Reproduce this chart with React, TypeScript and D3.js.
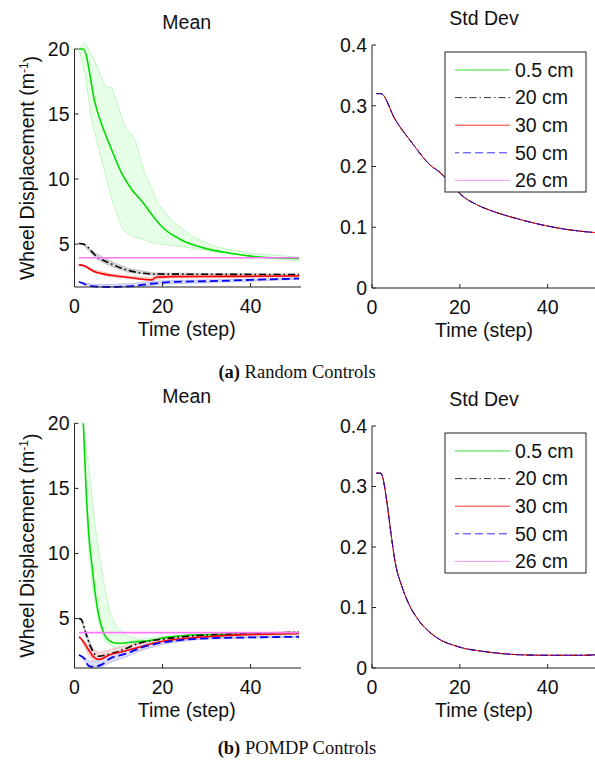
import React from 'react';
import * as d3 from 'd3';

const SANS = '"Liberation Sans", Arial, Helvetica, sans-serif';
const SERIF = '"Liberation Serif", "Times New Roman", serif';

// ---------- Legend / series ----------
const seriesNames = ['0.5 cm', '20 cm', '30 cm', '50 cm', '26 cm'];
const seriesColors = ['#00dd00', '#000000', '#ff0000', '#0000ff', '#ff77ff'];
const seriesDash = ['', '7,3,1.5,3', '', '8,4', ''];

const xTicks = [0, 20, 40];
const meanTicks = [5, 10, 15, 20];
const stdTicks = [0, 0.1, 0.2, 0.3, 0.4];

// ---------- (a) Random controls : mean ----------
const aGreenT = [1, 2, 4.7, 8.5, 10.8, 13, 15.3, 18.3, 19.8, 24.4, 29.7, 35.8, 43.3, 51];
const aGreenV = [20, 20, 15.8, 12.2, 10.4, 9.2, 8.3, 6.95, 6.35, 5.3, 4.67, 4.28, 3.97, 3.9];
const aGreenUpT = [1, 2.4, 4.7, 7, 8.5, 11.5, 13.8, 16, 19, 22, 26.7, 32, 39.5, 51];
const aGreenUp = [20, 20.5, 19, 17.1, 17, 14, 13, 10.4, 8.1, 6.85, 5.6, 4.8, 4.3, 4.0];
const aGreenLoT = [1, 2.4, 3.9, 7, 8.5, 11, 13, 15.3, 18.3, 24.4, 32, 39.5, 51];
const aGreenLo = [20, 18.1, 14.5, 10.4, 8.4, 6.1, 5.6, 5.4, 5.05, 4.8, 4.4, 4.07, 3.7];

const aBlackT = [1, 2, 5.2, 8.2, 12, 18, 30, 51];
const aBlackV = [5.05, 5.0, 4.0, 3.5, 3.0, 2.7, 2.68, 2.65];
const aBlackUp = [5.05, 5.05, 4.2, 3.7, 3.15, 2.78, 2.74, 2.7];
const aBlackLo = [5.05, 4.95, 3.8, 3.3, 2.85, 2.6, 2.6, 2.58];

const aRedT = [1, 2, 4.5, 8.2, 12, 17.6, 18.5, 22, 35, 51];
const aRedV = [3.4, 3.35, 2.9, 2.6, 2.45, 2.25, 2.45, 2.5, 2.52, 2.55];
const aRedUp = [3.45, 3.4, 3.0, 2.7, 2.55, 2.4, 2.55, 2.6, 2.6, 2.62];
const aRedLo = [3.35, 3.3, 2.8, 2.5, 2.38, 2.15, 2.3, 2.4, 2.42, 2.48];

const aBlueT = [1, 4.3, 9, 12, 14, 17.3, 19, 21.8, 31, 40, 51];
const aBlueV = [2.1, 1.75, 1.7, 1.75, 1.8, 1.95, 2.0, 2.08, 2.15, 2.25, 2.35];
const aBlueUp = [2.1, 1.9, 1.9, 1.95, 2.0, 2.1, 2.15, 2.2, 2.25, 2.3, 2.4];
const aBlueLo = [2.1, 1.7, 1.7, 1.7, 1.7, 1.8, 1.88, 1.95, 2.05, 2.15, 2.3];

const aMagT = [1, 51];
const aMagV = [3.95, 3.95];

// ---------- (a) Random controls : std dev ----------
const aStdT = [1, 2, 5.3, 9.1, 13.6, 15.2, 17.4, 20.5, 24.2, 28, 32.6, 38.6, 44.7, 51];
const aStdV = [0.32, 0.32, 0.277, 0.239, 0.2, 0.192, 0.176, 0.152, 0.136, 0.125, 0.115, 0.104, 0.096, 0.091];

// ---------- (b) POMDP controls : mean ----------
const bGreenT = [2, 2.6, 3.3, 4.1, 4.8, 5.6, 6.4, 7.9, 9.4, 10.9, 13.2, 17, 20.8, 28.3, 40, 51];
const bGreenV = [20, 15.1, 11.3, 8.7, 6.7, 5.1, 4.1, 3.3, 3.1, 3.1, 3.2, 3.3, 3.55, 3.75, 3.8, 3.85];
const bGreenUpT = [2, 3.3, 4.8, 6.4, 7.9, 9.4, 11.7, 14.7, 20, 30, 51];
const bGreenUp = [20, 16.4, 11.8, 8.2, 5.6, 4.4, 3.7, 3.4, 3.6, 3.8, 3.9];
const bGreenLoT = [2, 2.3, 3, 4.1, 5.6, 7, 9.4, 11.7, 14.7, 20, 30, 51];
const bGreenLo = [20, 17.7, 11.3, 7.4, 4.6, 3.2, 2.7, 2.8, 3.0, 3.45, 3.7, 3.8];

const bBlackT = [1, 1.5, 2.6, 3.7, 4.8, 5.6, 7, 9.4, 11.7, 14.7, 20.8, 28.3, 40, 51];
const bBlackV = [5.0, 4.95, 3.85, 2.8, 2.2, 2.1, 2.2, 2.4, 2.7, 3.1, 3.45, 3.7, 3.85, 3.95];
const bBlackUp = [5.0, 5.0, 4.05, 3.0, 2.4, 2.3, 2.4, 2.6, 2.85, 3.2, 3.5, 3.74, 3.88, 3.98];
const bBlackLo = [5.0, 4.9, 3.65, 2.6, 2.0, 1.9, 2.0, 2.2, 2.55, 3.0, 3.4, 3.66, 3.82, 3.92];

const bRedT = [1, 1.5, 3, 4.5, 5.6, 7.9, 10.9, 14.7, 19.2, 24.5, 32, 51];
const bRedV = [3.6, 3.45, 2.7, 2.0, 1.85, 2.2, 2.45, 2.8, 3.2, 3.45, 3.65, 3.85];
const bRedUp = [3.6, 3.5, 3.0, 2.5, 2.4, 2.6, 2.85, 3.05, 3.35, 3.55, 3.72, 3.9];
const bRedLo = [3.6, 3.4, 2.3, 1.6, 1.45, 1.8, 2.1, 2.5, 3.0, 3.3, 3.55, 3.8];

const bBlueT = [1, 2.6, 3, 3.7, 4.8, 6.4, 7.9, 11.7, 15.5, 20.8, 28.3, 40, 51];
const bBlueV = [2.2, 1.8, 1.45, 1.3, 1.33, 1.5, 1.9, 2.3, 2.8, 3.2, 3.45, 3.55, 3.6];
const bBlueUp = [2.2, 1.95, 1.8, 1.7, 1.75, 1.9, 2.2, 2.55, 2.95, 3.3, 3.5, 3.6, 3.65];
const bBlueLo = [2.2, 1.6, 1.3, 1.2, 1.2, 1.3, 1.6, 2.05, 2.6, 3.1, 3.4, 3.5, 3.55];

const bMagT = [1, 51];
const bMagV = [3.92, 3.92];

// ---------- (b) POMDP controls : std dev ----------
const bStdT = [1, 2, 3.4, 4.2, 5.3, 6.8, 8.3, 10.6, 14.4, 19.7, 25.8, 33.3, 40.2, 48.5, 51];
const bStdV = [0.322, 0.322, 0.274, 0.229, 0.174, 0.135, 0.107, 0.079, 0.052, 0.035, 0.027, 0.022, 0.021, 0.021, 0.022];

type Pt = [number, number];
const zip = (t: number[], v: number[]): Pt[] => t.map((x, i) => [x, v[i]]);

interface Band { upT: number[]; up: number[]; loT: number[]; lo: number[]; fill: string; stroke: string; }
interface Series { t: number[]; v: number[]; idx: number; width: number; opacity?: number; band?: Band; }

interface PanelProps {
  left: number; right: number; top: number; bottom: number;
  yDomain: [number, number]; yTicks: number[]; yFmt: (d: number) => string;
  title: string; series: Series[]; yLabel?: boolean; legend?: boolean;
}

const Panel = ({ left, right, top, bottom, yDomain, yTicks, yFmt, title, series, yLabel, legend }: PanelProps) => {
  const x = d3.scaleLinear().domain([0, 51]).range([left, right]);
  const y = d3.scaleLinear().domain(yDomain).range([bottom, top]);
  const line = d3.line<Pt>().x(d => x(d[0])).y(d => y(d[1])).curve(d3.curveMonotoneX);
  const poly = d3.line<Pt>().x(d => x(d[0])).y(d => y(d[1]));
  const cx = (left + right) / 2;
  const lx = left + 73;
  const ly = top + 7;
  return (
    <g>
      <text x={cx} y={top - 20} textAnchor="middle" fontFamily={SANS} fontSize={19.5} fill="#111">{title}</text>
      {series.filter(s => s.band).map((s, i) => {
        const b = s.band!;
        const pts: Pt[] = [...zip(b.upT, b.up), ...zip(b.loT, b.lo).reverse()];
        return <path key={'b' + i} d={poly(pts)! + 'Z'} fill={b.fill} stroke={b.stroke} strokeWidth={0.8} />;
      })}
      {series.map((s, i) => (
        <path key={'l' + i} d={line(zip(s.t, s.v))!} fill="none" stroke={seriesColors[s.idx]}
          strokeWidth={s.width} strokeDasharray={seriesDash[s.idx] || undefined}
          opacity={s.opacity ?? 1} />
      ))}
      {/* axes */}
      <line x1={left} x2={left} y1={top} y2={bottom} stroke="#222" strokeWidth={1} />
      <line x1={left} x2={right + 2} y1={bottom} y2={bottom} stroke="#222" strokeWidth={1} />
      {yTicks.map(t => (
        <g key={'yt' + t}>
          <line x1={left} x2={left + 4} y1={y(t)} y2={y(t)} stroke="#222" />
          <text x={left - 5} y={y(t)} dy="0.35em" textAnchor="end" fontFamily={SANS} fontSize={19.5} fill="#111">{yFmt(t)}</text>
        </g>
      ))}
      {xTicks.map(t => (
        <g key={'xt' + t}>
          <line x1={x(t)} x2={x(t)} y1={bottom} y2={bottom - 4} stroke="#222" />
          <text x={x(t)} y={bottom + 19} dy="0.35em" textAnchor="middle" fontFamily={SANS} fontSize={19.5} fill="#111">{t}</text>
        </g>
      ))}
      <text x={cx} y={bottom + 42} dy="0.35em" textAnchor="middle" fontFamily={SANS} fontSize={19.5} fill="#111">Time (step)</text>
      {yLabel && (
        <text transform={`translate(${left - 47},${(top + bottom) / 2}) rotate(-90)`} textAnchor="middle" dy="0.35em"
          fontFamily={SANS} fontSize={19.5} fill="#111">
          Wheel Displacement (m<tspan dy="-0.55em" fontSize={12}>-1</tspan><tspan dy="0.55em">)</tspan>
        </text>
      )}
      {legend && (
        <g>
          <rect x={lx} y={ly} width={141} height={140} fill="#fff" stroke="#222" strokeWidth={1} />
          {seriesNames.map((n, i) => {
            const yy = ly + 18 + i * 27.6;
            return (
              <g key={'lg' + i}>
                <line x1={lx + 10} x2={lx + 65} y1={yy} y2={yy} stroke={seriesColors[i]} strokeWidth={1}
                  strokeDasharray={seriesDash[i] || undefined} opacity={0.8}
                  strokeDashoffset={i === 3 ? 4 : 0} />
                <text x={lx + 70} y={yy} dy="0.35em" fontFamily={SANS} fontSize={19.5} fill="#111">{n}</text>
              </g>
            );
          })}
        </g>
      )}
    </g>
  );
};

const meanSeries = (
  g: [number[], number[]], gb: Band,
  k: [number[], number[]], kb: Band,
  r: [number[], number[]], rb: Band,
  bl: [number[], number[]], blb: Band,
  m: [number[], number[]]
): Series[] => [
  { t: g[0], v: g[1], idx: 0, width: 1.6, band: gb },
  { t: k[0], v: k[1], idx: 1, width: 1.6, band: kb },
  { t: r[0], v: r[1], idx: 2, width: 1.6, band: rb },
  { t: bl[0], v: bl[1], idx: 3, width: 1.8, band: blb },
  { t: m[0], v: m[1], idx: 4, width: 1.6 },
];

const greenFill = '#e6ffe6', greenEdge = '#b8f2b8';
const grayFill = '#d4d4d4', grayEdge = '#bbbbbb';
const pinkFill = '#f9dada', pinkEdge = '#f0b8b8';
const lavFill = '#dcdcfa', lavEdge = '#b8b8f0';

const aMean = meanSeries(
  [aGreenT, aGreenV], { upT: aGreenUpT, up: aGreenUp, loT: aGreenLoT, lo: aGreenLo, fill: greenFill, stroke: greenEdge },
  [aBlackT, aBlackV], { upT: aBlackT, up: aBlackUp, loT: aBlackT, lo: aBlackLo, fill: grayFill, stroke: grayEdge },
  [aRedT, aRedV], { upT: aRedT, up: aRedUp, loT: aRedT, lo: aRedLo, fill: pinkFill, stroke: pinkEdge },
  [aBlueT, aBlueV], { upT: aBlueT, up: aBlueUp, loT: aBlueT, lo: aBlueLo, fill: lavFill, stroke: lavEdge },
  [aMagT, aMagV]
);
const bMean = meanSeries(
  [bGreenT, bGreenV], { upT: bGreenUpT, up: bGreenUp, loT: bGreenLoT, lo: bGreenLo, fill: greenFill, stroke: greenEdge },
  [bBlackT, bBlackV], { upT: bBlackT, up: bBlackUp, loT: bBlackT, lo: bBlackLo, fill: grayFill, stroke: grayEdge },
  [bRedT, bRedV], { upT: bRedT, up: bRedUp, loT: bRedT, lo: bRedLo, fill: pinkFill, stroke: pinkEdge },
  [bBlueT, bBlueV], { upT: bBlueT, up: bBlueUp, loT: bBlueT, lo: bBlueLo, fill: lavFill, stroke: lavEdge },
  [bMagT, bMagV]
);

const stdSeries = (t: number[], v: number[]): Series[] =>
  [0, 4, 1, 2, 3].map(idx => ({ t, v, idx, width: 1, opacity: idx === 3 ? 0.7 : idx === 2 ? 0.8 : 1 }));

const fmtInt = (d: number) => String(d);
const fmtStd = (d: number) => (d === 0 ? '0' : d.toFixed(1));

export default function App() {
  return (
    <svg width={595} height={762} style={{ position: 'absolute', left: 0, top: 0, background: '#fff' }}>
      <rect width={595} height={762} fill="#fff" />
      <Panel left={74.5} right={299} top={49} bottom={287} yDomain={[1.7, 20]} yTicks={meanTicks} yFmt={fmtInt}
        title="Mean" series={aMean} yLabel />
      <Panel left={372} right={596} top={45} bottom={288} yDomain={[0, 0.4]} yTicks={stdTicks} yFmt={fmtStd}
        title="Std Dev" series={stdSeries(aStdT, aStdV)} legend />
      <text x={297} y={372} dy="0.35em" textAnchor="middle" fontFamily={SERIF} fontSize={18.5} fill="#111">
        <tspan fontWeight="bold">(a)</tspan> Random Controls
      </text>
      <Panel left={74.5} right={299} top={423.3} bottom={668} yDomain={[1.2, 20]} yTicks={meanTicks} yFmt={fmtInt}
        title="Mean" series={bMean} yLabel />
      <Panel left={372} right={596} top={426} bottom={668} yDomain={[0, 0.4]} yTicks={stdTicks} yFmt={fmtStd}
        title="Std Dev" series={stdSeries(bStdT, bStdV)} legend />
      <text x={297} y={748} dy="0.35em" textAnchor="middle" fontFamily={SERIF} fontSize={18.5} fill="#111">
        <tspan fontWeight="bold">(b)</tspan> POMDP Controls
      </text>
    </svg>
  );
}
